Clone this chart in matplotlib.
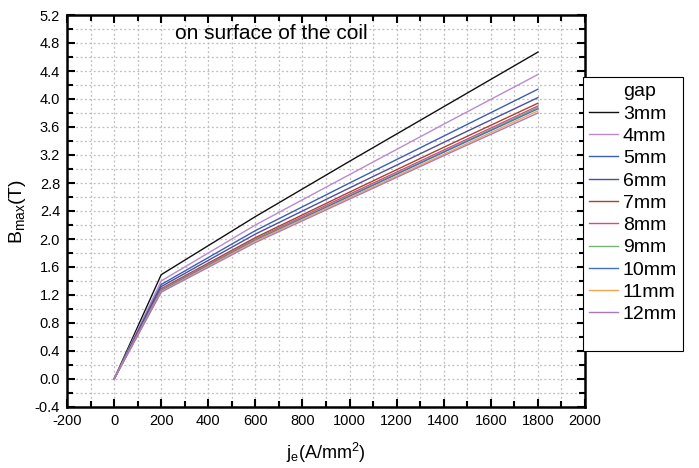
import matplotlib
matplotlib.use("Agg")
import matplotlib.pyplot as plt
from matplotlib.lines import Line2D
from matplotlib.ticker import MultipleLocator, FormatStrFormatter

plt.rcParams['font.family'] = ['Liberation Sans', 'DejaVu Sans']
plt.rcParams['mathtext.fontset'] = 'custom'
plt.rcParams['mathtext.rm'] = 'Liberation Sans'
plt.rcParams['mathtext.it'] = 'Liberation Sans'
plt.rcParams['axes.unicode_minus'] = False

# Current density (A/mm^2)
je = [0, 200, 600, 1000, 1400, 1800]

# Peak field on the coil surface (T) for each gap
gaps = ["3mm", "4mm", "5mm", "6mm", "7mm", "8mm", "9mm", "10mm", "11mm", "12mm"]
b_3mm = [0, 1.49, 2.32, 3.11, 3.89, 4.67]
b_4mm = [0, 1.40, 2.20, 2.92, 3.64, 4.35]
b_5mm = [0, 1.35, 2.12, 2.80, 3.47, 4.14]
b_6mm = [0, 1.32, 2.07, 2.73, 3.38, 4.02]
b_7mm = [0, 1.29, 2.02, 2.67, 3.31, 3.94]
b_8mm = [0, 1.28, 2.00, 2.64, 3.27, 3.90]
b_9mm = [0, 1.27, 1.99, 2.62, 3.25, 3.88]
b_10mm = [0, 1.26, 1.98, 2.61, 3.24, 3.86]
b_11mm = [0, 1.25, 1.97, 2.59, 3.21, 3.83]
b_12mm = [0, 1.24, 1.95, 2.57, 3.19, 3.80]
series = [b_3mm, b_4mm, b_5mm, b_6mm, b_7mm, b_8mm, b_9mm, b_10mm, b_11mm, b_12mm]

colors = ["#111111", "#b98ad0", "#3b5fb5", "#4a4f9e", "#a8432f",
          "#e0458a", "#74b472", "#4470c0", "#f2a450", "#a77abf"]

fig = plt.figure(figsize=(6.99, 4.68), dpi=100)
ax = fig.add_axes([67 / 699, 1 - 407 / 468, (585 - 67) / 699, (407 - 15) / 468])

handles = []
for vals, c, g in zip(series, colors, gaps):
    ln, = ax.plot(je, vals, color=c, lw=1.0, label=g)
    handles.append(ln)

ax.set_xlim(-200, 2000)
ax.set_ylim(-0.4, 5.2)
ax.xaxis.set_major_locator(MultipleLocator(200))
ax.xaxis.set_minor_locator(MultipleLocator(100))
ax.yaxis.set_major_locator(MultipleLocator(0.4))
ax.yaxis.set_minor_locator(MultipleLocator(0.2))
ax.yaxis.set_major_formatter(FormatStrFormatter('%.1f'))

ax.grid(True, which='both', color='#bdbdbd', linestyle=(0, (1.5, 2.0)), lw=0.9)
ax.set_axisbelow(True)
ax.tick_params(which='both', direction='in', top=True, right=True, width=1.5,
               labelsize=10.5, colors='black')
ax.tick_params(which='major', length=6, pad=5)
ax.tick_params(which='minor', length=4)
for s in ax.spines.values():
    s.set_linewidth(1.8)

ax.set_xlabel(r"j$_\mathregular{e}$(A/mm$^\mathregular{2}$)", fontsize=13, labelpad=9)
ax.set_ylabel(r"B$_\mathregular{max}$(T)", fontsize=14, va='center')
ax.yaxis.set_label_coords(-0.095, 0.5)

ax.text(260, 4.94, "on surface of the coil", fontsize=15, va='center', ha='left')

# Legend with a header row and a blank trailing row
blank = Line2D([], [], color='none')
leg_handles = [blank] + handles + [blank]
leg_labels = ["gap"] + gaps + [" "]
leg = fig.legend(leg_handles, leg_labels, loc='upper left',
                 bbox_to_anchor=(583 / 699, 1 - 77 / 468), bbox_transform=fig.transFigure,
                 borderaxespad=0, fontsize=14, frameon=True, fancybox=False,
                 handlelength=1.5, handletextpad=0.25, labelspacing=0.24,
                 borderpad=0.3)
leg.get_frame().set_edgecolor('black')
leg.get_frame().set_linewidth(0.8)
leg.get_frame().set_alpha(1)

fig.savefig("out.png", dpi=100)
